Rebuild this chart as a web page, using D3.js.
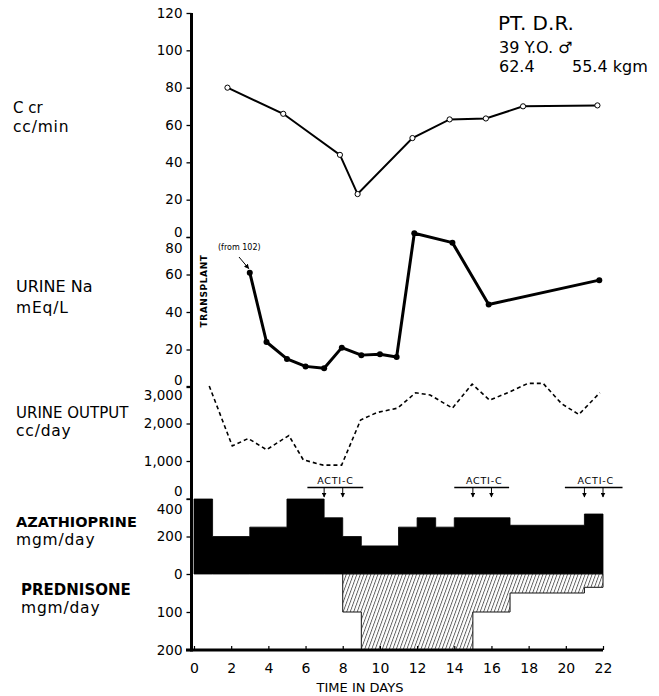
<!DOCTYPE html>
<html><head><meta charset="utf-8">
<script src="https://cdn.jsdelivr.net/npm/d3@7"></script>
<style>body{margin:0;background:#fff} svg{display:block}</style>
</head><body>
<svg id="chart" width="659" height="696"></svg>
<script>
// ---- data ----
const ccrDays = [1.8, 4.8, 7.85, 8.8, 11.75, 13.75, 15.7, 17.7, 21.7];
const ccrValues = [80, 66, 44, 23, 53, 63, 63.5, 70, 70.5];
const naDays = [3, 3.9, 5, 6, 7, 7.95, 9, 10, 10.9, 11.85, 13.9, 15.85, 21.8];
const naValues = [61, 24, 15, 11, 10, 21, 17, 17.5, 16, 82, 77, 44, 57];
const uoDays = [0.82, 2.06, 2.92, 3.9, 5.1, 5.88, 6.95, 7.94, 8.96, 9.82, 10.95, 11.92, 12.7, 13.9, 14.96, 15.9, 16.87, 17.97, 18.78, 19.77, 20.7, 21.83];
const uoValues = [3000, 1400, 1600, 1300, 1680, 1030, 890, 890, 2090, 2290, 2410, 2820, 2760, 2410, 3050, 2620, 2820, 3070, 3070, 2530, 2240, 2820];
const azaBounds = [0, 1, 3, 5, 7, 8, 9, 11, 12, 13, 14, 17, 21, 22];
const azaValues = [400, 200, 250, 400, 300, 200, 150, 250, 300, 250, 300, 260, 320];
const predBounds = [8, 9, 15, 17, 21, 22];
const predValues = [100, 200, 100, 50, 35];
const actiDoseDays = [[7, 8], [15, 16], [21, 22]];
const actiSpans = [[6.1, 9.1], [14, 16.95], [19.95, 23.05]];
const actiLabels = ["ACTI-C", "ACTI-C", "ACTI-C"];
const xTicks = [0, 2, 4, 6, 8, 10, 12, 14, 16, 18, 20, 22];
const ccrTicks = [0, 20, 40, 60, 80, 100, 120];
const naTicks = [0, 20, 40, 60, 80];
const uoTicks = [0, 1000, 2000, 3000];
const uoTickLabels = ["0", "1,000", "2,000", "3,000"];
const azaTicks = [0, 200, 400];
const predTicks = [100, 200];
const panelLabels = [["C cr", "cc/min"], ["URINE Na", "mEq/L"], ["URINE OUTPUT", "cc/day"], ["AZATHIOPRINE", "mgm/day"], ["PREDNISONE", "mgm/day"]];
const headerLines = ["PT. D.R.", "39 Y.O. \u2642", "62.4", "55.4 kgm"];

// ---- scales ----
const x = d3.scaleLinear().domain([0, 22]).range([194, 603]);
const yCcr = d3.scaleLinear().domain([0, 120]).range([237, 13]);
const yNa = d3.scaleLinear().domain([0, 80]).range([387, 237]);
const yUo = d3.scaleLinear().domain([0, 3000]).range([498.5, 386]);
const yAza = d3.scaleLinear().domain([0, 400]).range([574, 499]);
const yPred = d3.scaleLinear().domain([0, 200]).range([574, 650]);

const svg = d3.select("#chart");
const FONT = "'DejaVu Sans', sans-serif";

// hatch pattern
const defs = svg.append("defs");
const pat = defs.append("pattern").attr("id", "hatch").attr("patternUnits", "userSpaceOnUse")
  .attr("width", 3.3).attr("height", 10).attr("patternTransform", "rotate(20)");
pat.append("rect").attr("width", 3.3).attr("height", 10).attr("fill", "#fff");
pat.append("line").attr("x1", 0.5).attr("y1", 0).attr("x2", 0.5).attr("y2", 10)
  .attr("stroke", "#333").attr("stroke-width", 0.8);

// ---- azathioprine (black steps) ----
const azaPts = azaBounds.map((b, i) => [b, azaValues[Math.min(i, azaValues.length - 1)]]);
svg.append("path").datum(azaPts)
  .attr("d", d3.area().x(d => x(d[0])).y0(yAza(0)).y1(d => yAza(d[1])).curve(d3.curveStepAfter))
  .attr("fill", "#000").attr("stroke", "#000").attr("stroke-width", 0.8);

// ---- prednisone (hatched steps, downward) ----
const predPts = predBounds.map((b, i) => [b, predValues[Math.min(i, predValues.length - 1)]]);
svg.append("path").datum(predPts)
  .attr("d", d3.area().x(d => x(d[0])).y0(yPred(0)).y1(d => yPred(d[1])).curve(d3.curveStepAfter))
  .attr("fill", "url(#hatch)").attr("stroke", "#111").attr("stroke-width", 1);

// ---- axes ----
function leftAxis(scale, ticks, fmt, adjust) {
  const g = svg.append("g").attr("transform", "translate(191.5,0)")
    .call(d3.axisLeft(scale).tickValues(ticks).tickSize(5).tickPadding(4).tickFormat(fmt));
  g.select(".domain").remove();
  g.selectAll(".tick line").attr("stroke", "#000").attr("stroke-width", 1.3);
  g.selectAll(".tick text").attr("font-family", FONT).attr("font-size", 13.5).attr("fill", "#000")
    .attr("dy", d => (adjust[d] !== undefined ? adjust[d] : 0) + "px").attr("dominant-baseline", "middle");
  return g;
}
leftAxis(yCcr, ccrTicks, d => d, {0: -5});
leftAxis(yNa, naTicks, d => d, {80: 11, 0: -7});
leftAxis(yUo, uoTicks, d => uoTickLabels[uoTicks.indexOf(d)], {3000: 9, 0: -7});
leftAxis(yAza, azaTicks, d => d, {400: 10, 0: 0});
leftAxis(yPred, predTicks, d => d, {});

// main vertical axis line
svg.append("line").attr("x1", 191.5).attr("x2", 191.5).attr("y1", yCcr(120)).attr("y2", 651.5)
  .attr("stroke", "#000").attr("stroke-width", 3);

// bottom axis
const gx = svg.append("g").attr("transform", "translate(0,650)")
  .call(d3.axisBottom(x).tickValues(xTicks).tickSize(-4).tickPadding(0));
gx.select(".domain").remove();
gx.selectAll(".tick line").attr("stroke", "#000").attr("stroke-width", 1.2);
gx.selectAll(".tick text").attr("font-family", FONT).attr("font-size", 14).attr("fill", "#000")
  .attr("y", 23).attr("dy", 0);
svg.append("line").attr("x1", 186).attr("x2", x(22)).attr("y1", 650).attr("y2", 650)
  .attr("stroke", "#000").attr("stroke-width", 3);
svg.append("text").attr("x", 360).attr("y", 692).attr("text-anchor", "middle")
  .attr("font-family", FONT).attr("font-size", 13).text("TIME IN DAYS");

// ---- Ccr line ----
const ccrPts = ccrDays.map((d, i) => [d, ccrValues[i]]);
svg.append("path").datum(ccrPts)
  .attr("d", d3.line().x(d => x(d[0])).y(d => yCcr(d[1])))
  .attr("fill", "none").attr("stroke", "#000").attr("stroke-width", 2);
svg.selectAll(".ccrpt").data(ccrPts).join("circle").attr("class", "ccrpt")
  .attr("cx", d => x(d[0])).attr("cy", d => yCcr(d[1])).attr("r", 2.6)
  .attr("fill", "#fff").attr("stroke", "#000").attr("stroke-width", 1);

// ---- Urine Na ----
const naPts = naDays.map((d, i) => [d, naValues[i]]);
svg.append("path").datum(naPts)
  .attr("d", d3.line().x(d => x(d[0])).y(d => yNa(d[1])))
  .attr("fill", "none").attr("stroke", "#000").attr("stroke-width", 3).attr("stroke-linejoin", "round");
svg.selectAll(".napt").data(naPts).join("circle").attr("class", "napt")
  .attr("cx", d => x(d[0])).attr("cy", d => yNa(d[1])).attr("r", 3).attr("fill", "#000");

// (from 102) annotation
svg.append("text").attr("x", 218).attr("y", 250).attr("font-family", FONT).attr("font-size", 8)
  .text("(from 102)");
defs.append("marker").attr("id", "arr").attr("viewBox", "0 0 10 10").attr("refX", 9).attr("refY", 5)
  .attr("markerWidth", 5).attr("markerHeight", 5).attr("orient", "auto")
  .append("path").attr("d", "M0,0L10,5L0,10z").attr("fill", "#000");
svg.append("line").attr("x1", 239).attr("y1", 257).attr("x2", x(naDays[0]) - 1).attr("y2", yNa(naValues[0]) - 4)
  .attr("stroke", "#000").attr("stroke-width", 1).attr("marker-end", "url(#arr)");

// TRANSPLANT
svg.append("text").attr("transform", "translate(207,291) rotate(-90)").attr("text-anchor", "middle")
  .attr("font-family", FONT).attr("font-size", 9).attr("font-weight", "bold").attr("letter-spacing", 0.6)
  .text("TRANSPLANT");

// ---- Urine output (dashed) ----
const uoPts = uoDays.map((d, i) => [d, uoValues[i]]);
svg.append("path").datum(uoPts)
  .attr("d", d3.line().x(d => x(d[0])).y(d => yUo(d[1])))
  .attr("fill", "none").attr("stroke", "#000").attr("stroke-width", 1.6).attr("stroke-dasharray", "4,3");

// ---- ACTI-C annotations ----
actiSpans.forEach((s, i) => {
  const cx = (x(actiDoseDays[i][0]) + x(actiDoseDays[i][1])) / 2 + 2;
  svg.append("text").attr("x", cx).attr("y", 484).attr("text-anchor", "middle")
    .attr("font-family", FONT).attr("font-size", 9.5).attr("letter-spacing", 0.8).text(actiLabels[i]);
  svg.append("line").attr("x1", x(s[0])).attr("x2", x(s[1])).attr("y1", 487.5).attr("y2", 487.5)
    .attr("stroke", "#000").attr("stroke-width", 1.6);
  actiDoseDays[i].forEach(d => {
    svg.append("line").attr("x1", x(d)).attr("x2", x(d)).attr("y1", 488).attr("y2", 497)
      .attr("stroke", "#000").attr("stroke-width", 1).attr("marker-end", "url(#arr)");
  });
});

// ---- panel labels ----
const labelPos = [[13, 113, 132, 15, "normal"], [16, 292, 313, 16, "normal"], [16, 418, 436, 15, "normal"], [16, 527, 545, 14.5, "bold"], [21, 595, 613, 15, "bold"]];
panelLabels.forEach((l, i) => {
  const p = labelPos[i];
  const t = svg.append("g").attr("font-family", FONT).attr("fill", "#000");
  t.append("text").attr("x", p[0]).attr("y", p[1]).attr("font-size", p[3]).attr("font-weight", p[4]).text(l[0]);
  t.append("text").attr("x", p[0]).attr("y", p[2]).attr("font-size", 15.5).attr("letter-spacing", 0.8).text(l[1]);
});

// ---- header ----
const hg = svg.append("g").attr("font-family", FONT).attr("fill", "#000");
hg.append("text").attr("x", 498).attr("y", 30).attr("font-size", 20).text(headerLines[0]);
hg.append("text").attr("x", 499).attr("y", 53).attr("font-size", 16).text(headerLines[1]);
hg.append("text").attr("x", 499).attr("y", 72).attr("font-size", 16).text(headerLines[2]);
hg.append("text").attr("x", 572).attr("y", 72).attr("font-size", 16).text(headerLines[3]);
</script>
</body></html>
